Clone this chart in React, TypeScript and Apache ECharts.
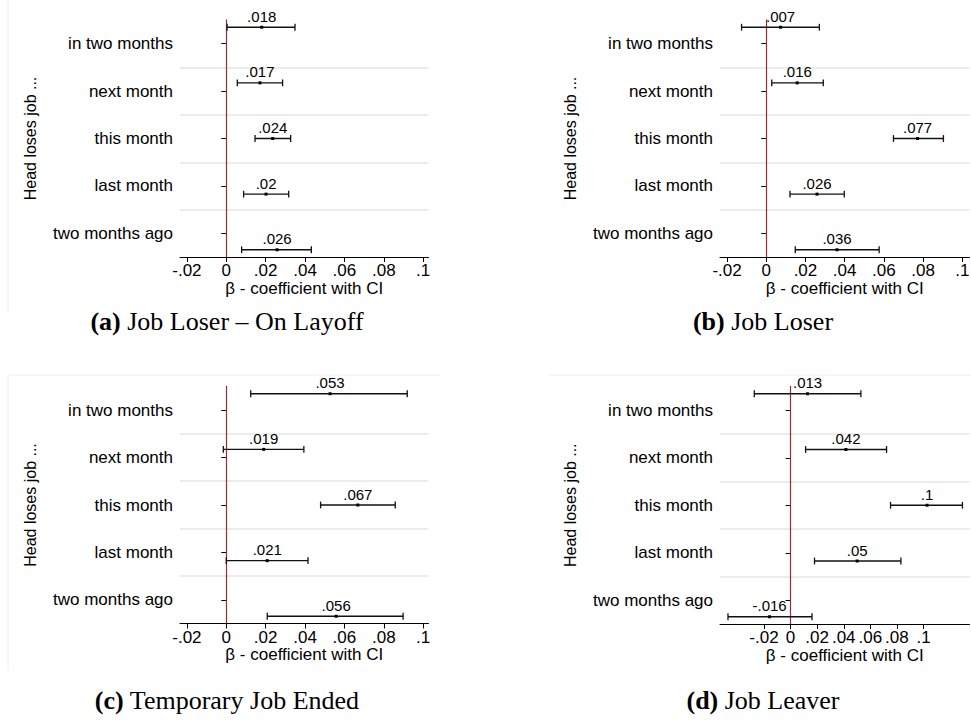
import React, { useEffect, useRef } from "react";
import * as echarts from "echarts";

// ---------- data ----------
const categories = ["in two months", "next month", "this month", "last month", "two months ago"];
const rowPositions = [1, 2, 3, 4, 5];

// (a) Job Loser – On Layoff
const estA = [0.018, 0.0171, 0.0236, 0.0202, 0.0258];
const loA = [0.0004, 0.0056, 0.0146, 0.0088, 0.0078];
const hiA = [0.0349, 0.0286, 0.0327, 0.0317, 0.0432];
const lblA = [".018", ".017", ".024", ".02", ".026"];

// (b) Job Loser
const estB = [0.0073, 0.0158, 0.0772, 0.0259, 0.0361];
const loB = [-0.0126, 0.0028, 0.0649, 0.0121, 0.0148];
const hiB = [0.0271, 0.0291, 0.0904, 0.0398, 0.0576];
const lblB = [".007", ".016", ".077", ".026", ".036"];

// (c) Temporary Job Ended
const estC = [0.0527, 0.019, 0.0668, 0.0208, 0.0558];
const loC = [0.0124, -0.0015, 0.0479, 0.0, 0.0208];
const hiC = [0.0919, 0.0394, 0.0858, 0.0415, 0.0898];
const lblC = [".053", ".019", ".067", ".021", ".056"];

// (d) Job Leaver
const estD = [0.0128, 0.0416, 0.1027, 0.0501, -0.0158];
const loD = [-0.0273, 0.0113, 0.0752, 0.018, -0.0471];
const hiD = [0.0529, 0.0722, 0.1293, 0.083, 0.0161];
const lblD = [".013", ".042", ".1", ".05", "-.016"];

const xTickValues = [-0.02, 0, 0.02, 0.04, 0.06, 0.08, 0.1];
const xTickLabels = ["-.02", "0", ".02", ".04", ".06", ".08", ".1"];

const captionLetters = ["a", "b", "c", "d"];
const captionTitles = ["Job Loser \u2013 On Layoff", "Job Loser", "Temporary Job Ended", "Job Leaver"];

const xAxisTitle = "\u03B2 - coefficient with CI";
const yAxisTitle = "Head loses job ...";

// ---------- layout ----------
const SANS = "'Liberation Sans', Arial, Helvetica, sans-serif";
const SERIF = "'Liberation Serif', 'Times New Roman', serif";

const Y_MIN = 0.87;
const Y_MAX = 5.13;

const panels = [
  { est: estA, lo: loA, hi: hiA, lbl: lblA, left: 180, top: 20, width: 248.5, height: 237, xMin: -0.0235, xMax: 0.1027, capX: 227, capY: 321 },
  { est: estB, lo: loB, hi: hiB, lbl: lblB, left: 720, top: 20, width: 249.5, height: 237, xMin: -0.0236, xMax: 0.1037, capX: 763, capY: 321 },
  { est: estC, lo: loC, hi: hiC, lbl: lblC, left: 180, top: 386.5, width: 248.5, height: 237, xMin: -0.0235, xMax: 0.1027, capX: 227, capY: 700 },
  { est: estD, lo: loD, hi: hiD, lbl: lblD, left: 720, top: 386.5, width: 249.5, height: 237.5, xMin: -0.0531, xMax: 0.1346, capX: 763, capY: 700 },
];

function tickLabel(v: number): string {
  for (let i = 0; i < xTickValues.length; i++) {
    if (Math.abs(xTickValues[i] - v) < 1e-9) return xTickLabels[i];
  }
  return "";
}

function buildOption() {
  const grid: any[] = [];
  const xAxis: any[] = [];
  const yAxis: any[] = [];
  const series: any[] = [];

  const boundaries: number[] = [];
  for (let j = 1; j < categories.length; j++) {
    boundaries.push(Y_MIN + (j * (Y_MAX - Y_MIN)) / categories.length);
  }

  panels.forEach((p, i) => {
    grid.push({ left: p.left, top: p.top, width: p.width, height: p.height, containLabel: false, outerBoundsMode: "none" });

    xAxis.push({
      gridIndex: i,
      type: "value",
      min: p.xMin,
      max: p.xMax,
      axisLine: { show: true, onZero: false, lineStyle: { color: "#000", width: 1 } },
      axisTick: { show: true, length: 5, customValues: xTickValues, lineStyle: { color: "#000", width: 1 } },
      axisLabel: {
        customValues: xTickValues,
        formatter: (v: number) => tickLabel(v),
        margin: 5,
        fontSize: 17,
        fontFamily: SANS,
        color: "#000",
        hideOverlap: false,
      },
      splitLine: { show: false },
      name: xAxisTitle,
      nameLocation: "middle",
      nameGap: 18,
      nameTextStyle: { fontSize: 17, fontFamily: SANS, color: "#000" },
    });

    yAxis.push({
      gridIndex: i,
      type: "category",
      data: categories,
      inverse: true,
      boundaryGap: true,
      position: "left",
      axisLine: { show: true, lineStyle: { color: "#000", width: 1 } },
      axisTick: { show: true, alignWithLabel: true, length: 5, lineStyle: { color: "#000", width: 1 } },
      axisLabel: { margin: 7, fontSize: 17, fontFamily: SANS, color: "#000" },
      splitLine: { show: false },
      name: yAxisTitle,
      nameLocation: "middle",
      nameGap: 142,
      nameTextStyle: { fontSize: 16, fontFamily: SANS, color: "#000" },
    });
    yAxis.push({
      gridIndex: i,
      type: "value",
      min: Y_MIN,
      max: Y_MAX,
      inverse: true,
      show: false,
      position: "left",
      splitLine: { show: false },
    });

    const data = p.est.map((e, k) => [e, rowPositions[k], p.lo[k], p.hi[k]]);
    const labels = p.lbl;

    series.push({
      type: "scatter",
      xAxisIndex: i,
      yAxisIndex: 2 * i + 1,
      data: [],
      silent: true,
      z: 1,
      markLine: {
        silent: true,
        symbol: ["none", "none"],
        label: { show: false },
        animation: false,
        data: [
          ...boundaries.map((b) => ({ yAxis: b, lineStyle: { color: "#e6e6e6", width: 1.5, type: "solid" } })),
          { xAxis: 0, lineStyle: { color: "#9e2a2f", width: 1.2, type: "solid" } },
        ],
      },
    });

    series.push({
      type: "custom",
      xAxisIndex: i,
      yAxisIndex: 2 * i + 1,
      z: 10,
      silent: true,
      encode: { x: [0, 2, 3], y: 1 },
      data,
      renderItem: (params: any, api: any) => {
        const est = api.value(0);
        const pos = api.value(1);
        const lo = api.value(2);
        const hi = api.value(3);
        const pE = api.coord([est, pos]);
        const pL = api.coord([lo, pos]);
        const pH = api.coord([hi, pos]);
        const cap = 3.4;
        const stroke = "#111";
        return {
          type: "group",
          children: [
            { type: "line", shape: { x1: pL[0], y1: pL[1], x2: pH[0], y2: pH[1] }, style: { stroke, lineWidth: 1.3 } },
            { type: "line", shape: { x1: pL[0], y1: pL[1] - cap, x2: pL[0], y2: pL[1] + cap }, style: { stroke, lineWidth: 1.3 } },
            { type: "line", shape: { x1: pH[0], y1: pH[1] - cap, x2: pH[0], y2: pH[1] + cap }, style: { stroke, lineWidth: 1.3 } },
            { type: "rect", shape: { x: pE[0] - 1.5, y: pE[1] - 1.5, width: 3, height: 3 }, style: { fill: "#000" } },
            {
              type: "text",
              x: pE[0],
              y: pE[1] - 3.5,
              style: {
                text: labels[params.dataIndex],
                fill: "#000",
                fontSize: 15,
                fontFamily: SANS,
                align: "center",
                verticalAlign: "bottom",
              },
            },
          ],
        };
      },
    });
  });

  const graphic: any[] = [];
  // faint graph-region borders
  const faint = { stroke: "#eeeeee", lineWidth: 1 };
  graphic.push({ type: "line", shape: { x1: 8, y1: 0, x2: 8, y2: 312 }, style: faint, silent: true });
  graphic.push({ type: "line", shape: { x1: 8, y1: 375, x2: 440, y2: 375 }, style: faint, silent: true });
  graphic.push({ type: "line", shape: { x1: 8, y1: 375, x2: 8, y2: 670 }, style: faint, silent: true });
  graphic.push({ type: "line", shape: { x1: 549, y1: 375, x2: 971, y2: 375 }, style: faint, silent: true });

  panels.forEach((p, i) => {
    graphic.push({
      type: "text",
      x: p.capX,
      y: p.capY,
      silent: true,
      style: {
        text: `{b|(${captionLetters[i]})} ${captionTitles[i]}`,
        fill: "#000",
        fontSize: 26,
        fontFamily: SERIF,
        align: "center",
        verticalAlign: "middle",
        rich: {
          b: { fontWeight: "bold", fontSize: 26, fontFamily: SERIF, fill: "#000" },
        },
      },
    });
  });

  return {
    animation: false,
    backgroundColor: "#fff",
    grid,
    xAxis,
    yAxis,
    series,
    graphic,
  };
}

export default function App() {
  const ref = useRef<HTMLDivElement>(null);
  useEffect(() => {
    if (!ref.current) return;
    const chart = echarts.init(ref.current, undefined, { renderer: "svg" });
    chart.setOption(buildOption() as any);
    return () => chart.dispose();
  }, []);
  return (
    <div
      ref={ref}
      style={{ position: "absolute", left: 0, top: 0, width: 971, height: 722, background: "#fff" }}
    />
  );
}
